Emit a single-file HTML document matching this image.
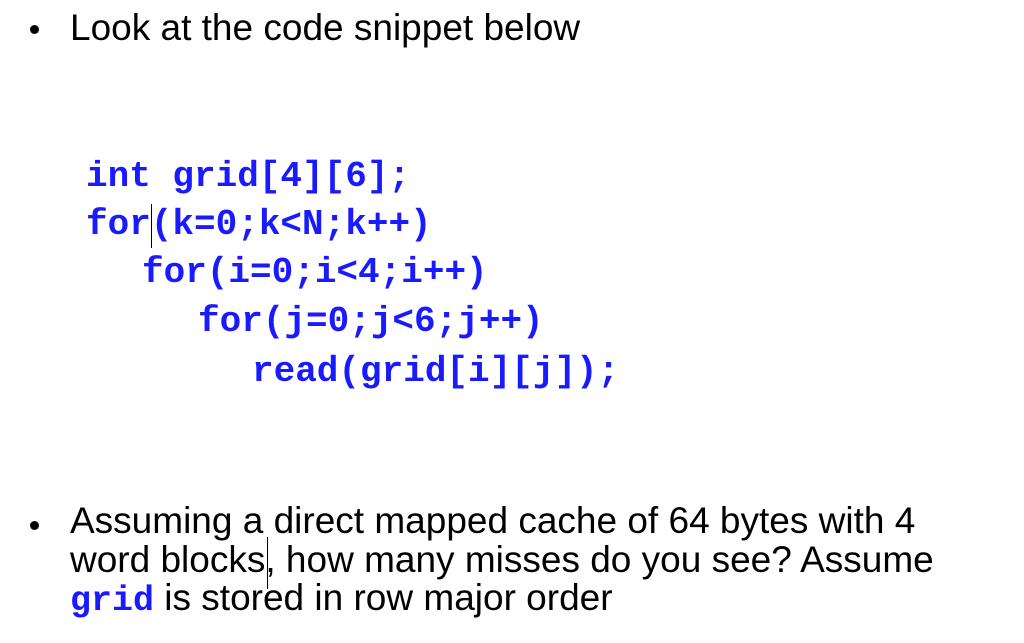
<!DOCTYPE html>
<html><head><meta charset="utf-8"><style>
html,body{margin:0;padding:0;background:#fff;}
body{width:1024px;height:643px;position:relative;overflow:hidden;font-family:"Liberation Sans",Arial,sans-serif;color:#000;}
.t{position:absolute;white-space:nowrap;font-size:37px;line-height:38px;}
.dot{position:absolute;width:9px;height:9px;border-radius:50%;background:#000;}
.c{position:absolute;white-space:nowrap;font-family:"Liberation Mono","Courier New",monospace;font-weight:bold;color:#1a1aff;font-size:36px;line-height:40px;}
.g{font-family:"Liberation Mono","Courier New",monospace;font-weight:bold;color:#1a1aff;font-size:35px;}
.cur{position:absolute;width:1px;background:#000;}
</style></head><body>
<div class="dot" style="left:30px;top:25px;"></div>
<div class="t" style="left:70px;top:9px;">Look at the code snippet below</div>

<div class="c" style="left:86px;top:157px;">int grid[4][6];</div>
<div class="c" style="left:86px;top:205px;">for(k=0;k&lt;N;k++)</div>
<div class="cur" style="left:151px;top:204px;height:44px;"></div>
<div class="c" style="left:142px;top:253px;">for(i=0;i&lt;4;i++)</div>
<div class="c" style="left:198px;top:302px;">for(j=0;j&lt;6;j++)</div>
<div class="c" style="left:252px;top:352px;">read(grid[i][j]);</div>

<div class="dot" style="left:30px;top:521px;"></div>
<div class="t" style="left:70px;top:502px;">Assuming a direct mapped cache of 64 bytes with 4</div>
<div class="t" style="left:70px;top:541px;">word blocks, how many misses do you see? Assume</div>
<div class="cur" style="left:267px;top:537px;height:52px;"></div>
<div class="t" style="left:70px;top:579px;"><span class="g">grid</span> is stored in row major order</div>
</body></html>
